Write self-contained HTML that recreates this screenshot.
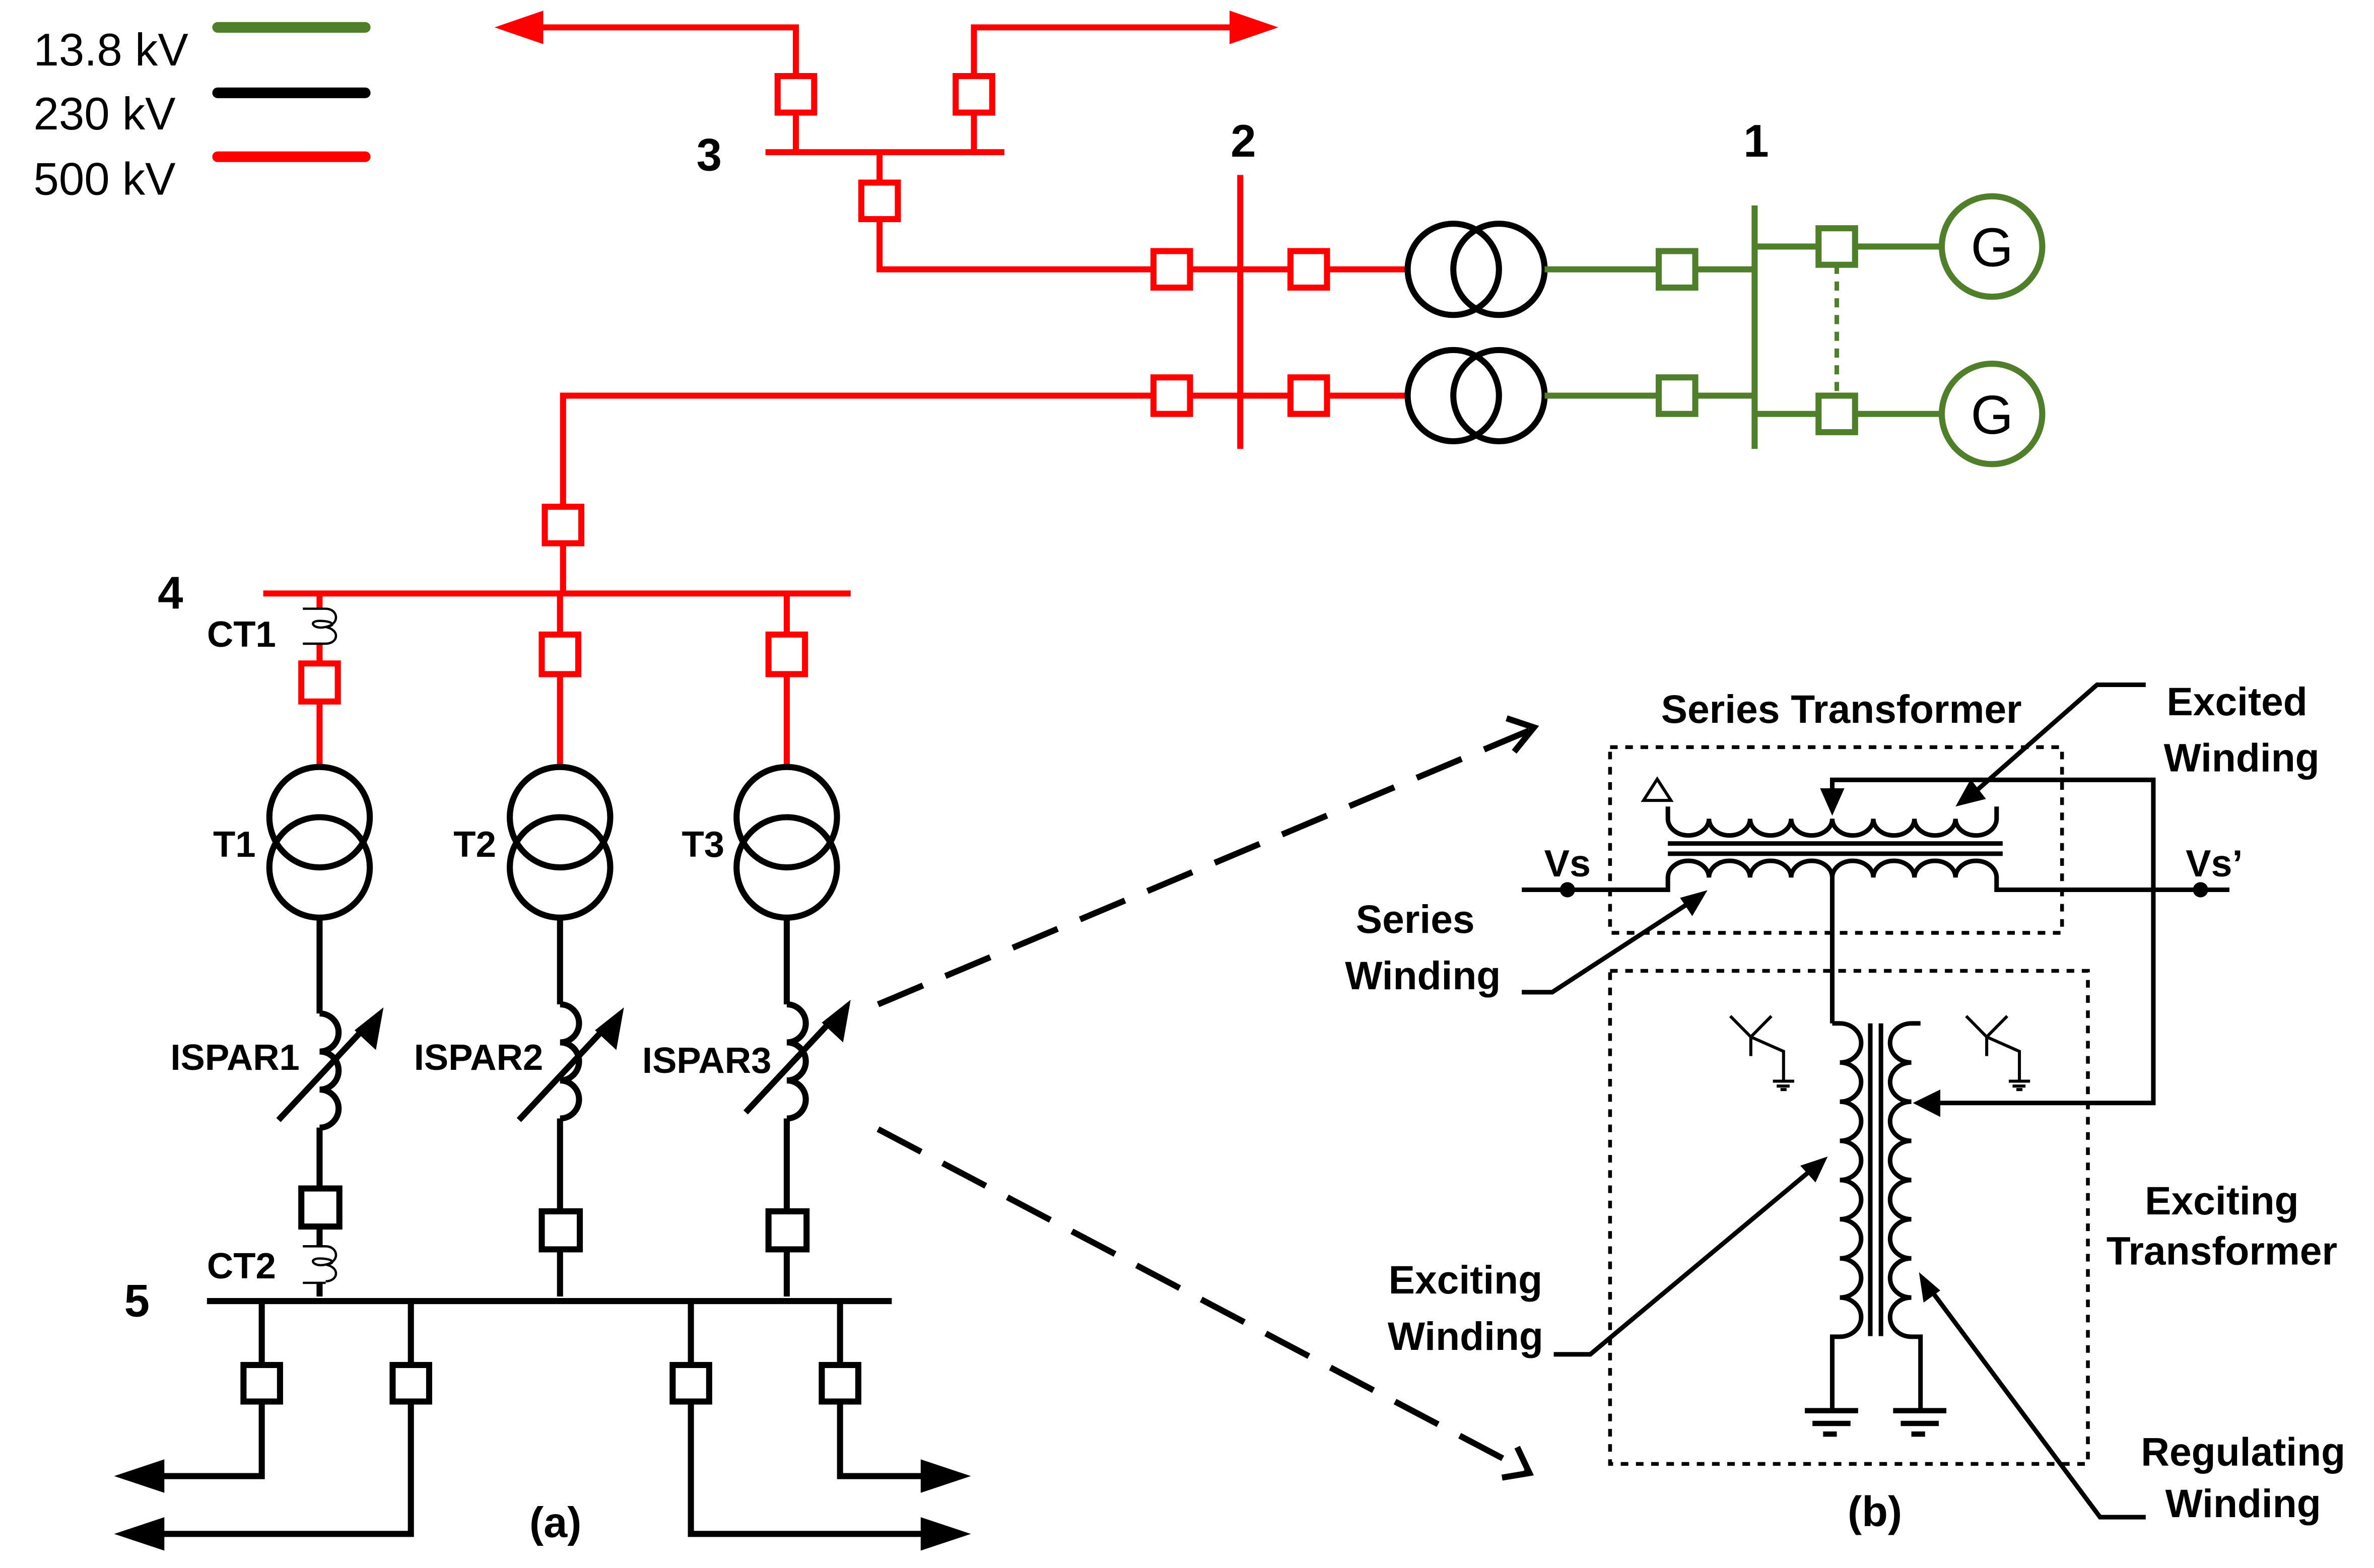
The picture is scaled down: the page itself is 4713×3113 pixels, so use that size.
<!DOCTYPE html>
<html><head><meta charset="utf-8"><style>html,body{margin:0;padding:0;background:#fff}svg{display:block}</style></head>
<body>
<svg width="4713" height="3113" viewBox="0 0 1560 1030.4" preserveAspectRatio="none" xmlns="http://www.w3.org/2000/svg" font-family="Liberation Sans, sans-serif">
<rect width="1560" height="1031" fill="#fff"/>
<!-- legend -->
<text x="22" y="43" font-size="30">13.8 kV</text>
<text x="22" y="85" font-size="30">230 kV</text>
<text x="22" y="128" font-size="30">500 kV</text>
<line x1="143" y1="18" x2="240" y2="18" stroke="#4f7f2a" stroke-width="7" stroke-linecap="round"/>
<line x1="143" y1="61" x2="240" y2="61" stroke="#000" stroke-width="7" stroke-linecap="round"/>
<line x1="143" y1="103" x2="240" y2="103" stroke="#f00" stroke-width="7" stroke-linecap="round"/>

<!-- red 500kV -->
<g stroke="#f00" stroke-width="4" fill="none">
<polyline points="523,100 523,18 355,18"/>
<polyline points="640,100 640,18 810,18"/>
<line x1="503" y1="100" x2="660" y2="100"/>
<polyline points="578,100 578,177 925,177"/>
<polyline points="370,391 370,260 925,260"/>
<line x1="815" y1="115" x2="815" y2="295"/>
<line x1="173" y1="390" x2="559" y2="390"/>
<line x1="210" y1="390" x2="210" y2="400"/>
<line x1="210" y1="423" x2="210" y2="505"/>
<line x1="368" y1="390" x2="368" y2="505"/>
<line x1="517" y1="390" x2="517" y2="505"/>
</g>
<g fill="#f00">
<polygon points="325,18 357,7 357,29"/>
<polygon points="840,18 808,7 808,29"/>
</g>
<g stroke="#f00" stroke-width="4" fill="#fff">
<rect x="511" y="50" width="24" height="24"/>
<rect x="628" y="50" width="24" height="24"/>
<rect x="566" y="120" width="24" height="24"/>
<rect x="758" y="165" width="24" height="24"/>
<rect x="848" y="165" width="24" height="24"/>
<rect x="758" y="248" width="24" height="24"/>
<rect x="848" y="248" width="24" height="24"/>
<rect x="358" y="333" width="24" height="24"/>
<rect x="198" y="436" width="24" height="25"/>
<rect x="356" y="417" width="24" height="26"/>
<rect x="505" y="417" width="24" height="26"/>
</g>
<!-- CT1 -->
<g stroke="#000" stroke-width="1.5" fill="none">
<line x1="199" y1="400" x2="214" y2="400"/><line x1="199" y1="423" x2="214" y2="423"/>
<path d="M214,400 c8,0 10,10 0,12 c-8,2 -12,-4 -4,-4 c8,0 12,3 4,4 c10,2 8,11 0,11"/>
</g>
<!-- transformers top -->
<g stroke="#000" stroke-width="4" fill="none">
<circle cx="955" cy="177" r="30"/><circle cx="985" cy="177" r="30"/>
<circle cx="955" cy="260" r="30"/><circle cx="985" cy="260" r="30"/>
</g>
<!-- green -->
<g stroke="#4f7f2a" stroke-width="4" fill="none">
<line x1="1015" y1="177" x2="1153" y2="177"/>
<line x1="1015" y1="260" x2="1153" y2="260"/>
<line x1="1153" y1="135" x2="1153" y2="295"/>
<line x1="1153" y1="162" x2="1276" y2="162"/>
<line x1="1153" y1="272" x2="1276" y2="272"/>
<line x1="1207" y1="174" x2="1207" y2="260" stroke-dasharray="6,5" stroke-width="3"/>
<circle cx="1309" cy="162" r="33"/><circle cx="1309" cy="272" r="33"/>
</g>
<g stroke="#4f7f2a" stroke-width="4" fill="#fff">
<rect x="1090" y="165" width="24" height="24"/>
<rect x="1090" y="248" width="24" height="24"/>
<rect x="1195" y="150" width="24" height="24"/>
<rect x="1195" y="260" width="24" height="24"/>
</g>
<text x="1309" y="175" font-size="36" text-anchor="middle">G</text>
<text x="1309" y="285" font-size="36" text-anchor="middle">G</text>
<g font-weight="bold" font-size="30" text-anchor="middle">
<text x="466" y="112">3</text><text x="817" y="103">2</text><text x="1154" y="103">1</text>
<text x="112" y="400">4</text><text x="90" y="865">5</text>
</g>

<!-- lower black -->
<g stroke="#000" stroke-width="4" fill="none">
<circle cx="210" cy="537" r="33"/><circle cx="210" cy="570" r="33"/>
<circle cx="368" cy="537" r="33"/><circle cx="368" cy="570" r="33"/>
<circle cx="517" cy="537" r="33"/><circle cx="517" cy="570" r="33"/>
<line x1="210" y1="603" x2="210" y2="666"/>
<path d="M210,666 a12.5,12.5 0 0 1 0,25 a12.5,12.5 0 0 1 0,25 a12.5,12.5 0 0 1 0,25"/>
<line x1="210" y1="741" x2="210" y2="781"/>
<line x1="368" y1="603" x2="368" y2="660"/>
<path d="M368,660 a12.5,12.5 0 0 1 0,25 a12.5,12.5 0 0 1 0,25 a12.5,12.5 0 0 1 0,25"/>
<line x1="368" y1="735" x2="368" y2="852"/>
<line x1="517" y1="603" x2="517" y2="660"/>
<path d="M517,660 a12.5,12.5 0 0 1 0,25 a12.5,12.5 0 0 1 0,25 a12.5,12.5 0 0 1 0,25"/>
<line x1="517" y1="735" x2="517" y2="852"/>
<line x1="210" y1="805" x2="210" y2="819"/>
<line x1="210" y1="843" x2="210" y2="852"/>
<line x1="136" y1="855" x2="586" y2="855"/>
<polyline points="172,855 172,970 105,970"/>
<polyline points="270,855 270,1008 105,1008"/>
<polyline points="454,855 454,1008 608,1008"/>
<polyline points="552,855 552,970 608,970"/>
<line x1="183" y1="736" x2="240" y2="675"/>
<line x1="341" y1="736" x2="398" y2="675"/>
<line x1="490" y1="731" x2="547" y2="670"/>
</g>
<g fill="#000">
<polygon points="252,662 247,690 233,677"/>
<polygon points="410,662 405,690 391,677"/>
<polygon points="559,657 554,685 540,672"/>
<polygon points="75,970 108,959 108,981"/>
<polygon points="75,1008 108,997 108,1019"/>
<polygon points="638,970 605,959 605,981"/>
<polygon points="638,1008 605,997 605,1019"/>
</g>
<g stroke="#000" stroke-width="1.5" fill="none">
<line x1="199" y1="819" x2="214" y2="819"/><line x1="199" y1="843" x2="214" y2="843"/>
<path d="M214,819 c8,0 10,10 0,12 c-8,2 -12,-4 -4,-4 c8,0 12,3 4,4 c10,2 8,11 0,11"/>
</g>
<g stroke="#000" stroke-width="4" fill="#fff">
<rect x="198" y="781" width="25" height="25"/>
<rect x="356" y="796" width="25" height="25"/>
<rect x="505" y="796" width="25" height="25"/>
<rect x="160" y="897" width="24" height="24"/>
<rect x="258" y="897" width="24" height="24"/>
<rect x="442" y="897" width="24" height="24"/>
<rect x="540" y="897" width="24" height="24"/>
</g>
<g font-weight="bold" font-size="24">
<text x="136" y="425">CT1</text><text x="136" y="840">CT2</text>
<text x="140" y="563">T1</text><text x="298" y="563">T2</text><text x="448" y="563">T3</text>
<text x="112" y="703">ISPAR1</text><text x="272" y="703">ISPAR2</text><text x="422" y="705">ISPAR3</text>
</g>
<text x="365" y="1010" font-size="28" font-weight="bold" text-anchor="middle">(a)</text>

<!-- dashed arrows -->
<g stroke="#000" stroke-width="4" fill="none">
<line x1="577" y1="660" x2="1005" y2="480" stroke-dasharray="32,16"/>
<polyline points="990,472 1008,478 995,494"/>
<line x1="577" y1="742" x2="1002" y2="966" stroke-dasharray="32,16"/>
<polyline points="987,971 1005,968 997,951"/>
</g>

<!-- part b -->
<g stroke="#000" stroke-width="2.5" fill="none" stroke-dasharray="5,5">
<rect x="1058" y="491" width="297" height="122"/>
<rect x="1058" y="638" width="314" height="324"/>
</g>
<g stroke="#000" stroke-width="3" fill="none">
<polygon points="1080,526 1089,512 1098,526" stroke-width="2"/>
<path d="M1096,530 v8 a13.5,11 0 0 0 27,0 a13.5,11 0 0 0 27,0 a13.5,11 0 0 0 27,0 a13.5,11 0 0 0 27,0 a13.5,11 0 0 0 27,0 a13.5,11 0 0 0 27,0 a13.5,11 0 0 0 27,0 a13.5,11 0 0 0 27,0 v-8"/>
<line x1="1096" y1="554.3" x2="1316" y2="554.3"/>
<line x1="1096" y1="561" x2="1316" y2="561"/>
<path d="M1000,584.7 H1096 v-8 a13.5,11 0 0 1 27,0 a13.5,11 0 0 1 27,0 a13.5,11 0 0 1 27,0 a13.5,11 0 0 1 27,0 a13.5,11 0 0 1 27,0 a13.5,11 0 0 1 27,0 a13.5,11 0 0 1 27,0 a13.5,11 0 0 1 27,0 v8 H1465"/>
<polyline points="1204,576 1204,672.5"/>
<polyline points="1204,520 1204,512.5 1415,512.5 1415,724.8 1270,724.8"/>
<path d="M1204,672.5 h5 a14,12.87 0 0 1 0,25.74 a14,12.87 0 0 1 0,25.74 a14,12.87 0 0 1 0,25.74 a14,12.87 0 0 1 0,25.74 a14,12.87 0 0 1 0,25.74 a14,12.87 0 0 1 0,25.74 a14,12.87 0 0 1 0,25.74 a14,12.87 0 0 1 0,25.74 h-5 V927"/>
<path d="M1262,672.5 h-6 a14,12.87 0 0 0 0,25.74 a14,12.87 0 0 0 0,25.74 a14,12.87 0 0 0 0,25.74 a14,12.87 0 0 0 0,25.74 a14,12.87 0 0 0 0,25.74 a14,12.87 0 0 0 0,25.74 a14,12.87 0 0 0 0,25.74 a14,12.87 0 0 0 0,25.74 h6 V927"/>
<line x1="1229" y1="672.5" x2="1229" y2="878"/>
<line x1="1236" y1="672.5" x2="1236" y2="878"/>
<g stroke-width="3.5">
<line x1="1186" y1="927" x2="1221" y2="927"/><line x1="1191" y1="935.4" x2="1216" y2="935.4"/><line x1="1198" y1="942.4" x2="1207" y2="942.4"/>
<line x1="1244" y1="927" x2="1279" y2="927"/><line x1="1249" y1="935.4" x2="1274" y2="935.4"/><line x1="1256" y1="942.4" x2="1265" y2="942.4"/>
</g>
<!-- pointers -->
<polyline points="1410,450 1378,450 1296,522"/>
<polyline points="1000,652 1020,652 1112,592"/>
<polyline points="1021,890 1045,890 1190,769"/>
<polyline points="1410,997 1380,997 1269,848"/>
</g>
<g fill="#000">
<polygon points="1204,536 1196,518 1212,518"/>
<polygon points="1257,724.8 1275,716 1275,734"/>
<polygon points="1285,530 1295,512 1305,525"/>
<polygon points="1122,585 1112,602 1104,590"/>
<polygon points="1201,760 1193,777 1183,766"/>
<polygon points="1261,836 1275,848 1264,856"/>
<circle cx="1030" cy="584.7" r="5"/><circle cx="1446" cy="584.7" r="5"/>
</g>
<!-- Y symbols -->
<g stroke="#000" stroke-width="2" fill="none">
<polyline points="1137,667.7 1150.5,681.4 1164,667.7"/>
<line x1="1150.5" y1="681.4" x2="1150.5" y2="694"/>
<polyline points="1150.5,681.4 1172,690.9 1172,710.5"/>
<line x1="1165" y1="710.5" x2="1179" y2="710.5"/><line x1="1167.5" y1="713.7" x2="1176" y2="713.7"/><line x1="1170" y1="716" x2="1174" y2="716"/>
<polyline points="1292,667.7 1305.5,681.4 1319,667.7"/>
<line x1="1305.5" y1="681.4" x2="1305.5" y2="694"/>
<polyline points="1305.5,681.4 1327,690.9 1327,710.5"/>
<line x1="1320" y1="710.5" x2="1334" y2="710.5"/><line x1="1322.5" y1="713.7" x2="1331" y2="713.7"/><line x1="1325" y1="716" x2="1329" y2="716"/>
</g>
<g font-weight="bold" font-size="26">
<text x="1210" y="475" text-anchor="middle">Series Transformer</text>
<text x="1470" y="470" text-anchor="middle">Excited</text>
<text x="1473" y="507" text-anchor="middle">Winding</text>
<text x="930" y="613" text-anchor="middle">Series</text>
<text x="935" y="650" text-anchor="middle">Winding</text>
<text x="963" y="850" text-anchor="middle">Exciting</text>
<text x="963" y="887" text-anchor="middle">Winding</text>
<text x="1460" y="798" text-anchor="middle">Exciting</text>
<text x="1460" y="831" text-anchor="middle">Transformer</text>
<text x="1474" y="963" text-anchor="middle">Regulating</text>
<text x="1474" y="997" text-anchor="middle">Winding</text>
<text x="1030" y="576" text-anchor="middle" font-size="25">Vs</text>
<text x="1455" y="576" text-anchor="middle" font-size="25">Vs’</text>
</g>
<text x="1232" y="1003" font-size="28" font-weight="bold" text-anchor="middle">(b)</text>
</svg>
</body></html>
